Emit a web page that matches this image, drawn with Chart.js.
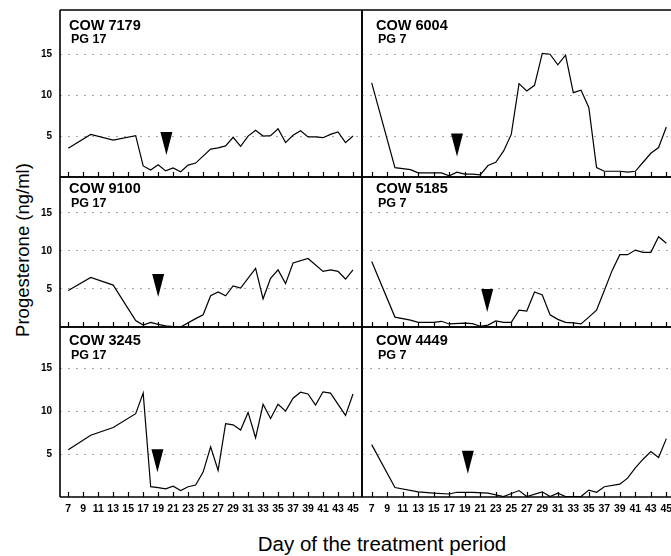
<!DOCTYPE html>
<html>
<head>
<meta charset="utf-8">
<script src="https://cdn.jsdelivr.net/npm/chart.js@4.4.1/dist/chart.umd.min.js"></script>
<style>
  html, body { margin: 0; padding: 0; background: #fff; }
  #wrap { position: relative; width: 671px; height: 556px; overflow: hidden; background: #fff; }
  #wrap canvas { position: absolute; left: 0; top: 0; }
  .ytitle { position: absolute; left: 22.5px; top: 250px; transform: translate(-50%, -50%) rotate(-90deg);
            font: 18.5px "Liberation Sans", Arial, sans-serif; white-space: nowrap; color: #000; line-height: normal; }
  .xtitle { position: absolute; left: 382px; top: 544px; transform: translate(-50%, -50%);
            font: 20.5px "Liberation Sans", Arial, sans-serif; white-space: nowrap; color: #000; line-height: normal; }
</style>
</head>
<body>
<div id="wrap">
  <div class="ytitle">Progesterone (ng/ml)</div>
  <div class="xtitle">Day of the treatment period</div>
</div>
<script>
// ---------------- data ----------------
const cowNames  = ['COW 7179', 'COW 6004', 'COW 9100', 'COW 5185', 'COW 3245', 'COW 4449'];
const pgLabels  = ['PG 17', 'PG 7', 'PG 17', 'PG 7', 'PG 17', 'PG 7'];
const dayTicks  = [7, 9, 11, 13, 15, 17, 19, 21, 23, 25, 27, 29, 31, 33, 35, 37, 39, 41, 43, 45];
const levelTicks = [5, 10, 15];

const cow7179Days   = [7, 10, 13, 16, 17, 18, 19, 20, 21, 22, 23, 24, 26, 27, 28, 29, 30, 31, 32, 33, 34, 35, 36, 37, 38, 39, 40, 41, 42, 43, 44, 45];
const cow7179Values = [3.5, 5.2, 4.5, 5.05, 1.35, 0.85, 1.5, 0.75, 1.1, 0.65, 1.45, 1.7, 3.4, 3.55, 3.8, 4.85, 3.75, 5.0, 5.7, 5.0, 5.05, 5.9, 4.2, 5.1, 5.65, 4.9, 4.9, 4.8, 5.2, 5.5, 4.2, 5.0];

const cow6004Days   = [7, 10, 12, 13, 14, 16, 17, 18, 19, 20, 21, 22, 23, 24, 25, 26, 27, 28, 29, 30, 31, 32, 33, 34, 35, 36, 37, 38, 39, 40, 41, 42, 43, 44, 45];
const cow6004Values = [11.5, 1.15, 0.9, 0.5, 0.5, 0.5, 0.15, 0.6, 0.35, 0.35, 0.25, 1.4, 1.8, 3.15, 5.2, 11.4, 10.5, 11.2, 15.1, 15.0, 13.7, 14.9, 10.3, 10.6, 8.5, 1.15, 0.7, 0.7, 0.7, 0.6, 0.7, 1.8, 2.9, 3.6, 6.1];

const cow9100Days   = [7, 10, 13, 16, 17, 18, 19, 20, 21, 22, 24, 25, 26, 27, 28, 29, 30, 32, 33, 34, 35, 36, 37, 39, 41, 42, 43, 44, 45];
const cow9100Values = [4.8, 6.5, 5.5, 0.85, 0.25, 0.6, 0.35, 0.15, 0.05, 0.0, 1.1, 1.6, 4.1, 4.6, 4.1, 5.4, 5.1, 7.7, 3.7, 6.4, 7.5, 5.7, 8.4, 9.0, 7.3, 7.5, 7.3, 6.3, 7.5];

const cow5185Days   = [7, 10, 12, 13, 15, 16, 17, 19, 20, 21, 22, 23, 24, 25, 26, 27, 28, 29, 30, 31, 32, 33, 34, 35, 36, 37, 38, 39, 40, 41, 42, 43, 44, 45];
const cow5185Values = [8.6, 1.3, 0.9, 0.6, 0.6, 0.75, 0.4, 0.5, 0.45, 0.1, 0.25, 0.8, 0.6, 0.6, 2.2, 2.1, 4.6, 4.2, 1.6, 1.0, 0.6, 0.55, 0.4, 1.3, 2.2, 4.8, 7.4, 9.5, 9.5, 10.1, 9.8, 9.8, 11.85, 11.0];

const cow3245Days   = [7, 10, 13, 16, 17, 18, 19, 20, 21, 22, 23, 24, 25, 26, 27, 28, 29, 30, 31, 32, 33, 34, 35, 36, 37, 38, 39, 40, 41, 42, 44, 45];
const cow3245Values = [5.5, 7.2, 8.1, 9.7, 12.1, 1.2, 1.1, 0.95, 1.25, 0.75, 1.2, 1.4, 2.9, 5.85, 3.1, 8.55, 8.4, 7.8, 9.85, 6.9, 10.8, 9.15, 10.8, 10.0, 11.5, 12.2, 12.0, 10.7, 12.25, 12.1, 9.5, 12.0];

const cow4449Days   = [7, 10, 13, 15, 17, 18, 20, 22, 24, 26, 27, 29, 30, 31, 32, 34, 35, 36, 37, 39, 40, 41, 42, 43, 44, 45];
const cow4449Values = [6.1, 1.1, 0.6, 0.45, 0.35, 0.55, 0.55, 0.45, 0.05, 0.75, 0.05, 0.6, 0.05, 0.45, 0.05, 0.05, 0.8, 0.55, 1.2, 1.5, 2.2, 3.4, 4.4, 5.3, 4.6, 6.8];

// PG injection arrows: day and upper level of each triangle
const arrowDays   = [20.1, 18.0, 19.0, 21.9, 18.9, 19.4];
const arrowLevels = [5.5, 5.3, 6.95, 5.0, 5.55, 5.4];

const panelDays   = [cow7179Days, cow6004Days, cow9100Days, cow5185Days, cow3245Days, cow4449Days];
const panelValues = [cow7179Values, cow6004Values, cow9100Values, cow5185Values, cow3245Values, cow4449Values];

// ---------------- layout / style ----------------
const W = 671, H = 556;
const FONT = '"Liberation Sans", Arial, Helvetica, sans-serif';
const cols = [
  { left: 60,  right: 362, xmin: 5.9,  xmax: 46.2, labelDx: 9 },
  { left: 362, right: 671, xmin: 5.75, xmax: 45.6, labelDx: 14 }
];
const rows = [
  { top: 10,  bottom: 177, ymax: 20.4, cowDy: 20, pgDy: 33 },
  { top: 177, bottom: 327, ymax: 19.7, cowDy: 16, pgDy: 30 },
  { top: 327, bottom: 497, ymax: 19.8, cowDy: 18, pgDy: 32 }
];
const X_AXIS_H = 30;
const ARROW_W = 12, ARROW_H = 23, TICK_LEN = 5;

const panelPlugin = {
  id: 'panel',
  afterDatasetsDraw(chart, args, opts) {
    const i = opts.idx;
    const r = Math.floor(i / 2), c = i % 2;
    const a = chart.chartArea;
    const xs = chart.scales.x, ys = chart.scales.y;
    const ctx = chart.ctx;
    ctx.save();
    ctx.strokeStyle = '#000';
    ctx.fillStyle = '#000';
    // frame
    ctx.lineWidth = 1.6;
    ctx.beginPath();
    ctx.moveTo(a.left, a.top); ctx.lineTo(a.right + (c === 1 ? 2 : 0), a.top);
    ctx.moveTo(a.left, a.top); ctx.lineTo(a.left, a.bottom);
    ctx.moveTo(a.left, a.bottom); ctx.lineTo(a.right + (c === 1 ? 2 : 0), a.bottom);
    if (c === 0) { ctx.moveTo(a.right, a.top); ctx.lineTo(a.right, a.bottom); }
    ctx.stroke();
    // inward tick marks
    ctx.lineWidth = 1.2;
    ctx.beginPath();
    dayTicks.forEach(d => {
      const px = Math.round(xs.getPixelForValue(d)) + 0.5;
      ctx.moveTo(px, a.bottom);
      ctx.lineTo(px, a.bottom - TICK_LEN);
    });
    ctx.stroke();
    // arrow
    const ax = xs.getPixelForValue(arrowDays[i]);
    const ay = ys.getPixelForValue(arrowLevels[i]);
    ctx.beginPath();
    ctx.moveTo(ax - ARROW_W / 2, ay);
    ctx.lineTo(ax + ARROW_W / 2, ay);
    ctx.lineTo(ax, ay + ARROW_H);
    ctx.closePath();
    ctx.fill();
    // labels
    ctx.textAlign = 'left';
    ctx.textBaseline = 'alphabetic';
    ctx.font = 'bold 14.5px ' + FONT;
    ctx.fillText(cowNames[i], a.left + cols[c].labelDx, a.top + rows[r].cowDy);
    ctx.font = 'bold 12.5px ' + FONT;
    ctx.fillText(pgLabels[i], a.left + cols[c].labelDx + 2, a.top + rows[r].pgDy);
    ctx.restore();
  }
};

const wrap = document.getElementById('wrap');

for (let i = 0; i < 6; i++) {
  const r = Math.floor(i / 2), c = i % 2;
  const row = rows[r], col = cols[c];
  const isBottom = r === 2, isLeft = c === 0;
  const canvas = document.createElement('canvas');
  canvas.width = W; canvas.height = H;
  wrap.appendChild(canvas);
  const pts = panelDays[i].map((d, k) => ({ x: d, y: panelValues[i][k] }));
  new Chart(canvas, {
    type: 'line',
    data: { datasets: [{ data: pts, borderColor: '#000', borderWidth: 1.2, pointRadius: 0, tension: 0, fill: false }] },
    options: {
      responsive: false, animation: false, devicePixelRatio: 1, events: [],
      layout: { padding: {
        left: isLeft ? 0 : col.left,
        right: W - col.right,
        top: row.top,
        bottom: H - row.bottom - (isBottom ? X_AXIS_H : 0)
      } },
      scales: {
        x: {
          type: 'linear', min: col.xmin, max: col.xmax, display: isBottom,
          grid: { display: false, drawTicks: false },
          border: { display: false },
          afterBuildTicks: s => { s.ticks = dayTicks.map(v => ({ value: v })); },
          afterFit: s => { s.height = isBottom ? X_AXIS_H : 0; s.paddingLeft = 0; s.paddingRight = 0; },
          ticks: { autoSkip: false, maxRotation: 0, minRotation: 0, padding: 6, color: '#000',
                   font: { family: FONT, size: 10.5, weight: 'bold' }, callback: v => String(v) }
        },
        y: {
          type: 'linear', min: 0, max: row.ymax,
          grid: { color: '#a8a8a8', lineWidth: 1, drawTicks: false },
          border: { display: false, dash: [2, 6] },
          afterBuildTicks: s => { s.ticks = levelTicks.map(v => ({ value: v })); },
          afterFit: s => { s.width = isLeft ? col.left : 0; s.paddingTop = 0; s.paddingBottom = 0; },
          ticks: { display: isLeft, padding: 8, color: '#000',
                   font: { family: FONT, size: 10, weight: 'bold' }, callback: v => String(v) }
        }
      },
      plugins: { legend: { display: false }, tooltip: { enabled: false }, panel: { idx: i } }
    },
    plugins: [panelPlugin]
  });
}
</script>
</body>
</html>
